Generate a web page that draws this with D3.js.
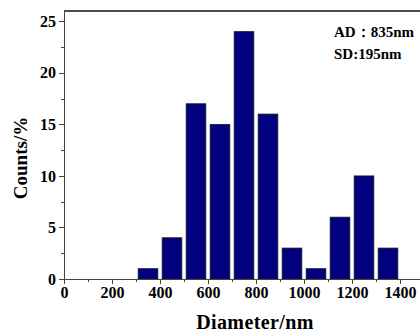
<!doctype html>
<html>
<head>
<script src="https://cdn.jsdelivr.net/npm/d3@7"></script>
<style>
  body { margin: 0; background: #fff; }
  svg { display: block; font-family: "Liberation Serif", "Times New Roman", serif; font-weight: bold; }
  .axis path, .axis line { stroke: #444; shape-rendering: crispEdges; }
  .axis text { font-family: "Liberation Serif", serif; font-weight: bold; font-size: 16px; fill: #000; }
</style>
</head>
<body>
<svg width="420" height="333"></svg>
<script>
// histogram bins (lower edge, nm) and counts (%)
var binStart = [300, 400, 500, 600, 700, 800, 900, 1000, 1100, 1200, 1300];
var counts   = [1, 4, 17, 15, 24, 16, 3, 1, 6, 10, 3];
var xTicks = [0, 200, 400, 600, 800, 1000, 1200, 1400];
var yTicks = [0, 5, 10, 15, 20, 25];
var notes = ["AD\uFF1A835nm", "SD:195nm"];

var svg = d3.select("svg");
var mLeft = 64, mRight = 424, mTop = 11, mBottom = 279;

var x = d3.scaleLinear().domain([0, 1500]).range([mLeft, mRight]);
var y = d3.scaleLinear().domain([0, 26]).range([mBottom, mTop]);

// bars
svg.selectAll("rect.bar")
  .data(binStart)
  .enter()
  .append("rect")
  .attr("class", "bar")
  .attr("x", function(d) { return x(d + 9); })
  .attr("width", function(d) { return x(d + 91) - x(d + 9); })
  .attr("y", function(d, i) { return y(counts[i]); })
  .attr("height", function(d, i) { return y(0) - y(counts[i]); })
  .attr("fill", "#000080")
  .attr("stroke", "#1a1a1a")
  .attr("stroke-width", 0.8);

// minor ticks
svg.append("g").attr("class", "axis")
  .attr("transform", "translate(0," + mBottom + ")")
  .call(d3.axisBottom(x).tickValues(d3.range(100, 1500, 200)).tickSize(3).tickFormat(""))
  .select(".domain").remove();
svg.append("g").attr("class", "axis")
  .attr("transform", "translate(" + mLeft + ",0)")
  .call(d3.axisLeft(y).tickValues([2.5, 7.5, 12.5, 17.5, 22.5]).tickSize(3).tickFormat(""))
  .select(".domain").remove();

// major axes
svg.append("g").attr("class", "axis")
  .attr("transform", "translate(0," + mBottom + ")")
  .call(d3.axisBottom(x).tickValues(xTicks).tickFormat(d3.format("d"))
    .tickSize(5).tickSizeOuter(0).tickPadding(3));
svg.append("g").attr("class", "axis")
  .attr("transform", "translate(" + mLeft + ",0)")
  .call(d3.axisLeft(y).tickValues(yTicks).tickFormat(d3.format("d"))
    .tickSize(5).tickSizeOuter(0).tickPadding(3));

// top frame line
svg.append("line")
  .attr("x1", mLeft).attr("x2", mRight)
  .attr("y1", mTop).attr("y2", mTop)
  .attr("stroke", "#111").attr("stroke-width", 1.6);

// axis titles
svg.append("text")
  .attr("x", 255).attr("y", 329)
  .attr("text-anchor", "middle")
  .attr("font-size", 20)
  .attr("letter-spacing", 0.4)
  .text("Diameter/nm");
svg.append("text")
  .attr("transform", "translate(27,158) rotate(-90)")
  .attr("text-anchor", "middle")
  .attr("font-size", 19)
  .text("Counts/%");

// annotation
svg.selectAll("text.note")
  .data(notes)
  .enter()
  .append("text")
  .attr("class", "note")
  .attr("x", 334)
  .attr("y", function(d, i) { return 37 + i * 22; })
  .attr("font-size", 15)
  .text(function(d) { return d; });
</script>
</body>
</html>
